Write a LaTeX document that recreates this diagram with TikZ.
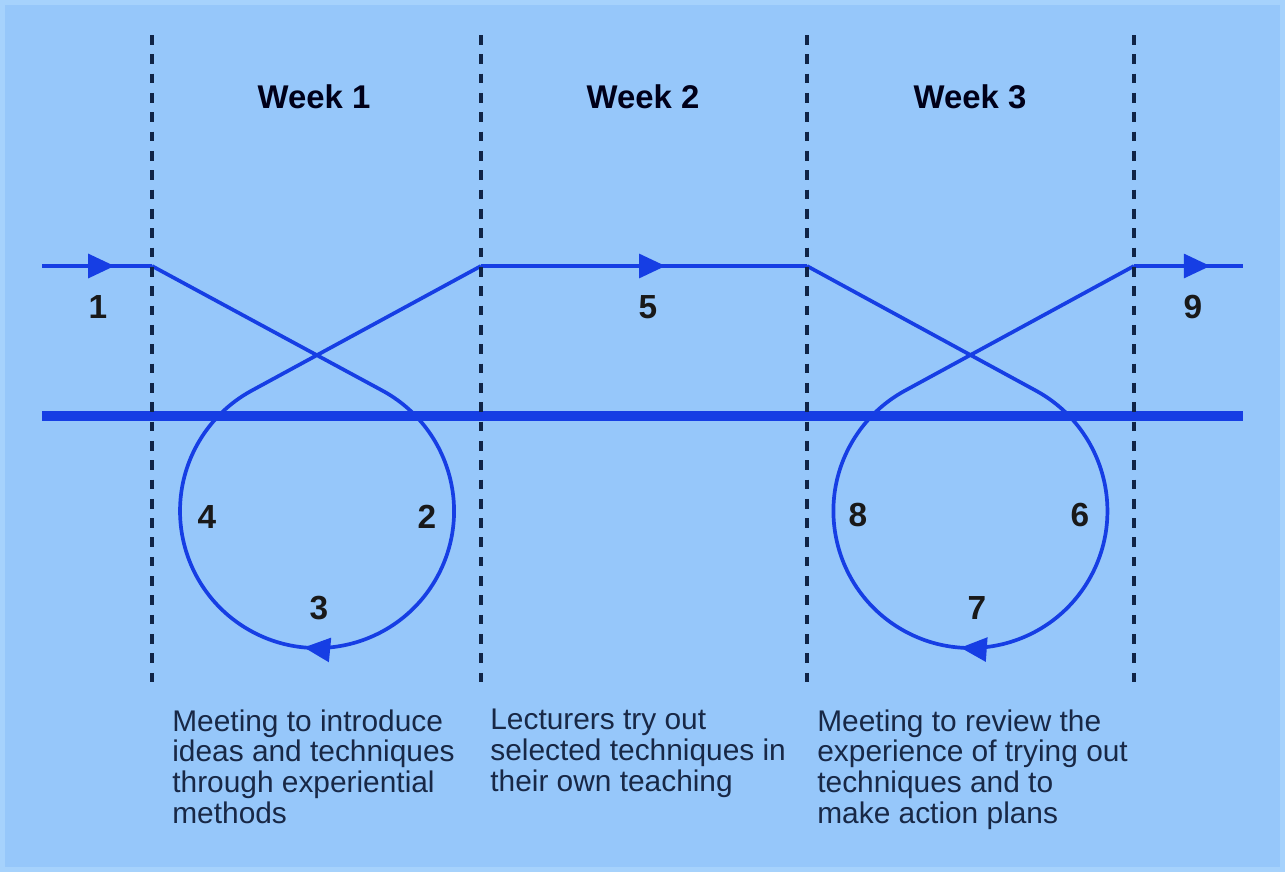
\documentclass[tikz,border=0pt]{standalone}
\usepackage{fontspec}
\setmainfont{Liberation Sans}
\usepackage{xcolor}
\usetikzlibrary{arrows.meta,decorations.markings}
\definecolor{skyback}{RGB}{150,199,250}
\definecolor{skyedge}{RGB}{166,210,252}
\definecolor{flowblue}{RGB}{22,62,228}
\definecolor{divnavy}{RGB}{16,36,70}
\definecolor{inknavy}{RGB}{24,40,70}

\begin{document}
\begin{tikzpicture}[x=0.02cm, y=-0.02cm,
  flow/.style={draw=flowblue, line width=2.1pt, line join=round},
  midtip/.style={postaction={decorate}, decoration={markings,
      mark=at position #1 with {\arrow{Triangle[length=15pt,width=13.5pt]}}}},
  divider/.style={draw=divnavy, line width=2.4pt, dash pattern=on 5.5pt off 5.5pt},
  weeklbl/.style={font=\fontsize{18.7}{20}\selectfont\bfseries, text=black!90!blue},
  steplbl/.style={font=\fontsize{19}{20}\selectfont\bfseries, text=black!90},
  note/.style={font=\fontsize{17}{17.6}\selectfont, text=inknavy, align=left,
      anchor=north west, inner sep=0pt},
]
  \def\rad{137} % loop radius (px)
  \useasboundingbox (0,0) rectangle (1285,872);

  % Background
  \fill[skyback] (0,0) rectangle (1285,872);
  \draw[skyedge, line width=2.8pt] (2.5,2.5) rectangle (1282.5,869.5);

  % Track points
  \coordinate (start) at (42,266);
  \coordinate (w1in) at (152,266);
  \coordinate (w1out) at (481,266);
  \coordinate (w3in) at (807,266);
  \coordinate (w3out) at (1134,266);
  \coordinate (finish) at (1243,266);

  % Straight runs
  \draw[flow, midtip=0.66] (start) -- (w1in);
  \draw[flow, midtip=0.566] (w1out) -- (w3in);
  \draw[flow, midtip=0.70] (w3out) -- (finish);

  % Week 1 loop (centre 317,511)
  \draw[flow, midtip=0.511] (w1in) -- (382.2,390.5)
    arc[start angle=-61.6, end angle=241.6, radius=\rad] -- (w1out);

  % Week 3 loop (centre 970.5,511)
  \draw[flow, midtip=0.508] (w3in) -- (1036.0,390.7)
    arc[start angle=-61.4, end angle=241.4, radius=\rad] -- (w3out);

  % Baseline
  \draw[flowblue, line width=5.7pt] (42,416) -- (1243,416);

  % Week dividers
  \foreach \x in {152,481,807,1134}{
    \draw[divider] (\x,35) -- (\x,682);
  }

  % Week titles
  \node[weeklbl] (week1) at (314,97) {Week 1};
  \node[weeklbl] (week2) at (643,97) {Week 2};
  \node[weeklbl] (week3) at (970,97) {Week 3};

  % Step numbers
  \node[steplbl] (n1) at (98,307) {1};
  \node[steplbl] (n2) at (427,517) {2};
  \node[steplbl] (n3) at (319,608) {3};
  \node[steplbl] (n4) at (207,517) {4};
  \node[steplbl] (n5) at (648,307) {5};
  \node[steplbl] (n6) at (1080,515) {6};
  \node[steplbl] (n7) at (977,608) {7};
  \node[steplbl] (n8) at (858,515) {8};
  \node[steplbl] (n9) at (1193,307) {9};

  % Notes under each week
  \node[note] (note1) at (172,709) {Meeting to introduce\\ideas and techniques\\through experiential\\methods};
  \node[note] (note2) at (490,709) {Lecturers try out\\selected techniques in\\their own teaching};
  \node[note] (note3) at (817,709) {Meeting to review the\\experience of trying out\\techniques and to\\make action plans};
\end{tikzpicture}
\end{document}
